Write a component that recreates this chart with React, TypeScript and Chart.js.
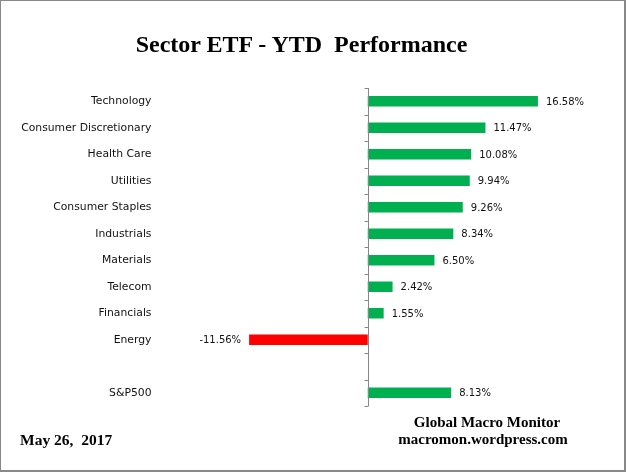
import React, { useEffect, useRef } from "react";
import { Chart, registerables } from "chart.js";

Chart.register(...registerables);

const categories = [
  "Technology",
  "Consumer Discretionary",
  "Health Care",
  "Utilities",
  "Consumer Staples",
  "Industrials",
  "Materials",
  "Telecom",
  "Financials",
  "Energy",
  "",
  "S&P500",
];
const ytdValues: (number | null)[] = [16.58, 11.47, 10.08, 9.94, 9.26, 8.34, 6.5, 2.42, 1.55, -11.56, null, 8.13];
const xMin = -20;
const xMax = 20;

const GREEN = "#00B050";
const RED = "#FF0000";
const AXIS_GRAY = "#868686";
const LABEL_FONT = '10px "DejaVu Sans"';

const zeroAxisPlugin = {
  id: "zeroAxis",
  afterDatasetsDraw(chart: any) {
    const { ctx, chartArea, scales } = chart;
    const x0 = Math.round(scales.x.getPixelForValue(0)) + 0.5;
    ctx.save();
    ctx.strokeStyle = AXIS_GRAY;
    ctx.lineWidth = 1;
    ctx.beginPath();
    ctx.moveTo(x0, chartArea.top);
    ctx.lineTo(x0, chartArea.bottom);
    const n = categories.length;
    const step = (chartArea.bottom - chartArea.top) / n;
    for (let i = 0; i <= n; i++) {
      const y = Math.round(chartArea.top + i * step) + 0.5;
      ctx.moveTo(x0 - 4, y);
      ctx.lineTo(x0, y);
    }
    ctx.stroke();

    // value labels
    ctx.font = LABEL_FONT;
    ctx.fillStyle = "#111";
    ctx.textBaseline = "middle";
    const meta = chart.getDatasetMeta(0);
    meta.data.forEach((bar: any, i: number) => {
      const v = ytdValues[i];
      if (v === null || v === undefined) return;
      const text = v.toFixed(2) + "%";
      if (v >= 0) {
        ctx.textAlign = "left";
        ctx.fillText(text, bar.x + 8, bar.y + 1);
      } else {
        ctx.textAlign = "right";
        ctx.fillText(text, bar.x - 8, bar.y + 1);
      }
    });
    ctx.restore();
  },
};

export default function App() {
  const ref = useRef<HTMLCanvasElement>(null);
  useEffect(() => {
    if (!ref.current) return;
    const chart = new Chart(ref.current, {
      type: "bar",
      data: {
        labels: categories,
        datasets: [
          {
            data: ytdValues as any,
            backgroundColor: ytdValues.map((v) => ((v ?? 0) < 0 ? RED : GREEN)),
            borderWidth: 0,
            barPercentage: 0.4,
            categoryPercentage: 1,
          },
        ],
      },
      options: {
        indexAxis: "y",
        animation: false,
        responsive: false,
        maintainAspectRatio: false,
        layout: { padding: { left: 0, right: 53, top: 88, bottom: 66 } },
        plugins: {
          legend: { display: false },
          tooltip: { enabled: false },
          title: { display: false },
        },
        scales: {
          x: {
            display: false,
            min: xMin,
            max: xMax,
          },
          y: {
            position: "left",
            grid: { display: false, drawTicks: false },
            border: { display: false },
            ticks: {
              color: "#111",
              font: { family: "DejaVu Sans", size: 10.8 },
              padding: 11,
              autoSkip: false,
            },
            afterFit(scale: any) {
              scale.width = 162.5;
            },
          },
        },
      },
      plugins: [zeroAxisPlugin],
    });
    return () => chart.destroy();
  }, []);

  const serifBold: React.CSSProperties = {
    position: "absolute",
    fontFamily: '"Liberation Serif", serif',
    fontWeight: "bold",
    color: "#000",
    whiteSpace: "pre",
  };

  return (
    <div
      style={{
        position: "fixed",
        left: 0,
        top: 0,
        width: 626,
        height: 472,
        boxSizing: "border-box",
        border: "1px solid #888",
        borderRightWidth: 2,
        borderBottomWidth: 2,
        background: "#fff",
        overflow: "hidden",
      }}
    >
      <canvas ref={ref} width={626} height={472} style={{ position: "absolute", left: -1, top: -1, width: 626, height: 472 }} />
      <div style={{ ...serifBold, left: 0, width: 601, top: 30, textAlign: "center", fontSize: 24 }}>
        {"Sector ETF - YTD  Performance"}
      </div>
      <div style={{ ...serifBold, left: 386, width: 200, top: 413, textAlign: "center", fontSize: 15 }}>
        {"Global Macro Monitor"}
      </div>
      <div style={{ ...serifBold, left: 382, width: 200, top: 430, textAlign: "center", fontSize: 15 }}>
        {"macromon.wordpress.com"}
      </div>
      <div style={{ ...serifBold, left: 19, top: 430, fontSize: 15.5 }}>{"May 26,  2017"}</div>
    </div>
  );
}
